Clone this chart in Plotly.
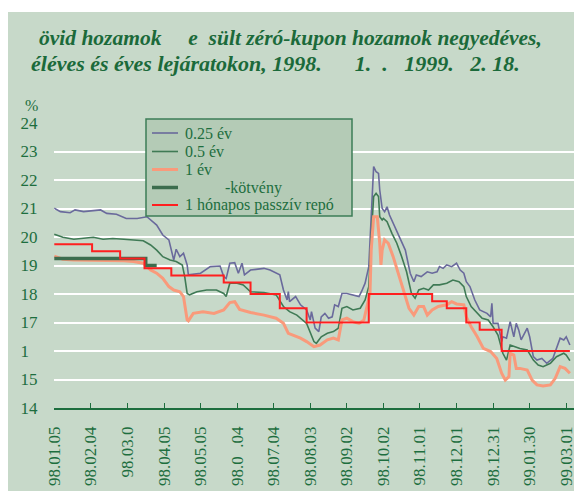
import pandas as pd
import plotly.graph_objects as go

# ---------------- data (days since 1998-01-05) ----------------
q25_days = [0,5,13,17,24,32,38,43,51,59,68,76,79,84,89,94,98,100,103,106,109,110,120,128,136,139,141,144,148,151,154,156,161,172,177,185,188,191,192,193,198,202,207,210,211,214,217,219,222,225,228,230,233,236,240,245,250,252,255,258,260,261,262,264,266,267,269,271,273,275,278,281,284,288,292,295,297,301,306,310,314,316,319,322,326,330,333,336,338,341,345,349,355,358,359,360,364,367,368,371,374,377,379,381,383,388,390,393,396,400,404,409,415,418,420,423]
q25_vals = [21.01,20.89,20.85,20.95,20.89,20.91,20.95,20.83,20.80,20.65,20.65,20.71,20.60,20.42,20.07,19.90,19.19,19.57,19.31,19.43,19.02,18.67,18.73,18.96,18.98,18.61,18.55,19.08,19.10,18.73,19.08,18.67,18.84,18.90,18.84,18.67,18.14,17.79,18.08,17.73,17.91,17.62,17.44,17.09,17.38,16.80,16.68,17.20,17.32,17.15,17.20,17.62,17.56,18.02,18.02,17.97,17.91,18.08,18.38,18.96,20.71,21.88,22.47,22.29,22.23,21.65,21.00,20.89,21.06,20.77,20.48,20.25,19.90,19.54,18.73,18.43,18.67,18.61,18.78,18.73,18.78,18.96,18.90,19.02,18.96,19.08,18.84,18.73,18.43,18.26,17.79,17.44,17.32,17.20,17.67,16.97,16.97,16.33,16.50,16.45,17.03,16.50,16.97,16.74,16.39,16.80,16.50,15.80,15.68,15.74,15.57,15.74,16.45,16.39,16.50,16.21]

q50_days = [0,7,16,24,32,40,48,57,65,73,79,84,89,95,100,105,107,109,111,117,125,133,139,141,144,150,155,161,172,182,188,193,199,202,207,213,215,219,224,229,233,236,240,245,251,255,258,260,262,264,266,267,269,270,273,277,281,285,289,293,296,299,303,307,311,316,322,327,332,336,338,342,347,351,356,360,364,368,371,374,378,382,388,393,397,401,407,412,418,420,423]
q50_vals = [20.10,19.99,19.92,19.95,19.99,19.92,19.95,19.92,19.90,19.87,19.72,19.54,19.31,19.19,19.14,19.02,18.61,18.02,17.97,18.08,18.14,18.14,18.02,17.91,18.38,18.38,18.32,18.08,18.05,17.97,17.56,17.38,17.26,17.15,16.97,16.33,16.27,16.50,16.62,16.68,16.80,17.50,17.56,17.44,17.50,17.79,18.26,20.01,21.42,21.53,21.42,20.71,20.60,20.65,20.54,20.13,19.78,19.31,18.78,18.02,17.85,18.14,18.20,18.14,18.32,18.32,18.38,18.49,18.43,18.26,17.91,17.56,17.32,17.15,17.09,16.85,16.56,15.92,15.68,16.21,16.15,16.09,16.04,15.68,15.51,15.45,15.57,15.80,15.92,15.86,15.66]

y1_days = [0,7,16,24,32,40,48,57,65,73,79,84,89,94,98,103,106,109,110,114,122,131,139,144,148,152,161,172,182,188,192,196,202,207,213,218,224,229,233,236,240,245,250,254,256,259,260,262,265,267,268,269,271,274,278,282,286,291,295,299,303,306,310,315,322,326,330,336,338,342,347,352,358,363,367,370,373,374,377,379,382,388,392,396,401,407,411,415,419,423]
y1_vals = [19.33,19.22,19.19,19.19,19.17,19.19,19.19,19.17,19.14,19.08,18.84,18.73,18.55,18.26,18.14,18.08,17.91,17.09,17.06,17.32,17.38,17.32,17.44,17.70,17.73,17.46,17.35,17.26,17.15,16.97,16.62,16.56,16.45,16.33,16.15,16.21,16.39,16.45,16.39,17.09,17.15,17.03,16.97,17.09,17.44,18.02,19.54,20.71,20.71,19.78,19.02,19.54,19.90,19.78,19.31,18.73,18.14,17.50,17.26,17.56,17.56,17.26,17.44,17.56,17.62,17.73,17.65,17.62,17.20,16.85,16.50,16.09,15.98,15.74,15.22,14.98,15.10,15.92,15.86,15.39,15.39,15.33,14.98,14.81,14.77,14.81,15.04,15.45,15.39,15.22]

bond_days = [0, 75, 84]
bond_vals = [19.25, 19.00, 19.00]

repo_days = [0,31,54,74,96,139,161,185,207,258,310,322,338,349,367,423]
repo_vals = [19.75,19.50,19.25,18.90,18.65,18.40,18.00,17.50,17.00,18.00,17.75,17.50,17.00,16.75,16.00,16.00]

tick_days = [0,30,60,90,120,150,180,210,240,270,300,330,360,390,420]
tick_text = ["98.01.05","98.02.04","98.03.0","98.04.05","98.05.05","98.0\u00a0\u00a0.04",
             "98.07.04","98.08.03","98.09.02","98.10.02","98.11.01","98.12.01",
             "98.12.31","99.01.30","99.03.01"]
y_ticks = [14,15,16,17,18,19,20,21,22,23,24]
y_text = ["14","15","1\u00a0\u00a0","17","18","19","20","21","22","23","24"]

names = ["0.25 év", "0.5 év", "1 év", "-kötvény", "1 hónapos passzív repó"]
colors = ["#6a6a9c", "#3f7a55", "#f99a7b", "#3c6d4e", "#ff1f1f"]
widths = [1.6, 1.6, 3, 3.5, 2]
NB = "\u00a0"
title1 = "övid hozamok" + NB*5 + "e" + NB*2 + "sült zéró-kupon hozamok negyedéves,"
title2 = ("éléves és éves lejáratokon, 1998." + NB*6 + "1." + NB*2 + "." + NB*3
          + "1999." + NB*3 + "2. 18.")

base = pd.Timestamp("1998-01-05")
def to_dates(days):
    return [base + pd.Timedelta(days=d) for d in days]

BG = "#c7d9c9"
TXT = "#1d6e3e"
FONT = "Liberation Serif"

# screen -> paper helpers (plot area spans screen x 54..580, y 123..408)
def px(x):
    return (x - 54) / 526
def py(y):
    return (408 - y) / 285

fig = go.Figure()
series = [(q25_days, q25_vals, "linear"), (q50_days, q50_vals, "linear"),
          (y1_days, y1_vals, "linear"), (bond_days, bond_vals, "hv"),
          (repo_days, repo_vals, "hv")]
for (d, v, shp), nm, c, w in zip(series, names, colors, widths):
    fig.add_trace(go.Scatter(x=to_dates(d), y=v, mode="lines", name=nm,
                             line=dict(color=c, width=w, shape=shp), showlegend=False))

x0 = base + pd.Timedelta(hours=-6)
x1 = base + pd.Timedelta(days=431.3)

shapes = [dict(type="rect", xref="paper", yref="paper",
               x0=px(8), x1=1.01, y0=-0.35, y1=py(12),
               fillcolor=BG, line=dict(width=0), layer="below"),
          dict(type="rect", xref="paper", yref="paper",
               x0=px(146), x1=px(352), y0=py(216), y1=py(119),
               fillcolor="#b4cbb6", line=dict(color="#3d7d57", width=1.5), layer="above")]
annotations = []
row_y = [133, 151.5, 169.5, 187.5, 205]
for i, (nm, c, w) in enumerate(zip(names, colors, widths)):
    shapes.append(dict(type="line", xref="paper", yref="paper",
                       x0=px(152), x1=px(178), y0=py(row_y[i]), y1=py(row_y[i]),
                       line=dict(color=c, width=w), layer="above"))
    tx = 223 if i == 3 else 183
    annotations.append(dict(text=nm, xref="paper", yref="paper", x=px(tx), y=py(row_y[i]),
                            xanchor="left", yanchor="middle", showarrow=False,
                            font=dict(family=FONT, size=16, color=TXT)))

annotations += [
    dict(text=title1, xref="paper", yref="paper", x=px(37), y=py(38),
         xanchor="left", yanchor="middle", showarrow=False,
         font=dict(family=FONT, size=21.5, color="#1b6a3a", weight="bold", style="italic")),
    dict(text=title2, xref="paper", yref="paper", x=px(29), y=py(63),
         xanchor="left", yanchor="middle", showarrow=False,
         font=dict(family=FONT, size=22, color="#1b6a3a", weight="bold", style="italic")),
    dict(text="%", xref="paper", yref="paper", x=px(31), y=py(105),
         xanchor="center", yanchor="middle", showarrow=False,
         font=dict(family=FONT, size=16, color=TXT)),
]

fig.update_layout(
    width=574, height=483,
    margin=dict(l=46, r=2, t=115, b=83),
    paper_bgcolor="white",
    plot_bgcolor=BG,
    font=dict(family=FONT, size=17, color=TXT),
    showlegend=False,
    xaxis=dict(range=[x0, x1], tickvals=to_dates(tick_days), ticktext=tick_text,
               tickangle=-90, ticks="inside", ticklen=5, tickcolor=TXT, tickwidth=1,
               showgrid=False, showline=True, linecolor=TXT, linewidth=1.5,
               tickfont=dict(family=FONT, size=17, color=TXT), zeroline=False,
               ticklabelstandoff=10, automargin=False),
    yaxis=dict(range=[14, 24], tickvals=y_ticks, ticktext=y_text,
               showgrid=True, gridcolor="white", gridwidth=2,
               ticks="outside", ticklen=12, tickcolor="rgba(0,0,0,0)",
               showline=False, zeroline=False, automargin=False,
               tickfont=dict(family=FONT, size=17, color=TXT)),
    shapes=shapes,
    annotations=annotations,
)

fig.write_html("out.html")
